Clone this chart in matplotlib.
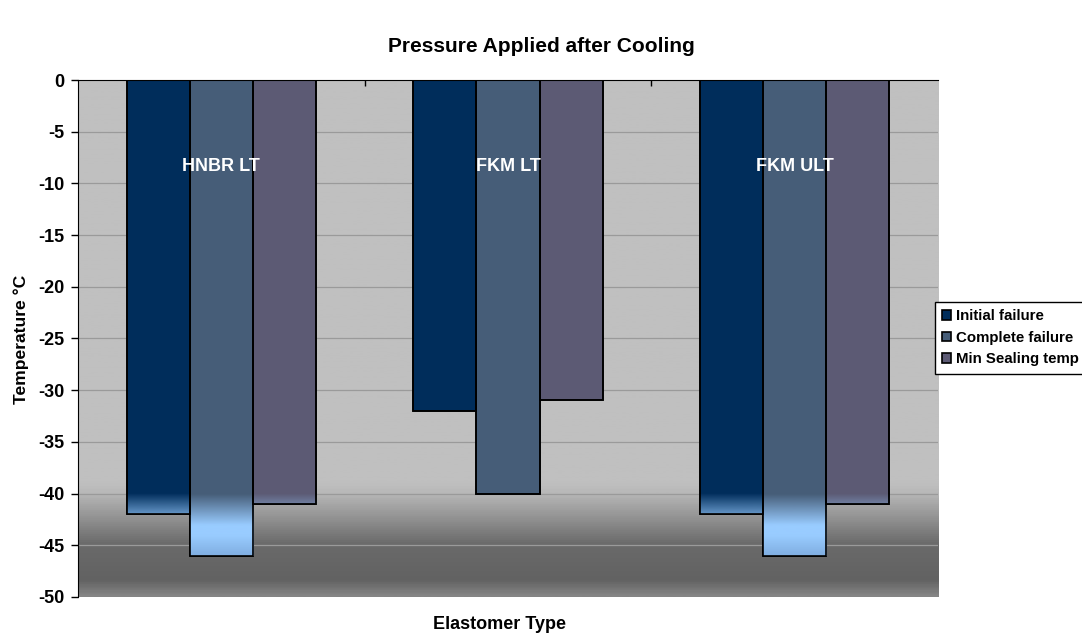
import matplotlib.pyplot as plt
import numpy as np
from matplotlib.colors import LinearSegmentedColormap

plt.rcParams['font.family'] = ['Liberation Sans', 'DejaVu Sans']
plt.rcParams['font.weight'] = 'bold'

categories = ['HNBR LT', 'FKM LT', 'FKM ULT']
series_names = ['Initial failure', 'Complete failure', 'Min Sealing temp']
initial_failure = [-42, -32, -42]
complete_failure = [-46, -40, -46]
min_sealing = [-41, -31, -41]
yticks = list(range(0, -55, -5))

colors = ['#002D5B', '#465D78', '#5C5A74']

fig = plt.figure(figsize=(10.82, 6.35), dpi=100)
ax = fig.add_axes([0.072, 0.06, 0.795, 0.814])

# plot area background: flat gray with dark band at the bottom
bg = LinearSegmentedColormap.from_list('bg', [(0, '#858585'), (0.03, '#626262'),
                                              (0.1, '#6a6a6a'), (0.2, '#b8b8b8'),
                                              (0.22, '#c0c0c0'), (1, '#c0c0c0')])
grad = np.linspace(0, 1, 600).reshape(-1, 1)
ax.imshow(grad, cmap=bg, aspect='auto', origin='lower',
          extent=(-0.5, 2.5, -50, 0), zorder=0)

for y in yticks[1:-1]:
    ax.axhline(y, color='#9a9a9a', lw=0.9, zorder=1)

x = np.arange(len(categories))
w = 0.22
data = [initial_failure, complete_failure, min_sealing]

# light-blue glow on bar parts below -40
glow = np.zeros((400, 1, 4))
t = np.linspace(-50, -38, 400)
a = np.clip((-40 - t) / 3.0, 0, 1)
base = np.array([0.6, 0.8, 1.0])
dark = np.array([0.5, 0.68, 0.88])
mix = np.clip((-44 - t) / 2.0, 0, 1)[:, None]
glow[:, 0, :3] = base * (1 - mix) + dark * mix
glow[:, 0, 3] = a

for i, (vals, c, name) in enumerate(zip(data, colors, series_names)):
    bars = ax.bar(x + (i - 1) * w, vals, w, color=c, edgecolor='black',
                  lw=1.2, zorder=2, label=name)
    for b in bars:
        im = ax.imshow(glow, aspect='auto', origin='lower',
                       extent=(-0.5, 2.5, -50, -38), zorder=2.5)
        im.set_clip_path(b)
        edge = plt.Rectangle(b.get_xy(), b.get_width(), b.get_height(),
                             fill=False, edgecolor='black', lw=1.2, zorder=3)
        ax.add_patch(edge)

for xi, cat in zip(x, categories):
    ax.text(xi, -8.4, cat, color='white', fontsize=13, fontweight='bold',
            ha='center', va='center', zorder=4)

ax.set_xlim(-0.5, 2.5)
ax.set_ylim(-50, 0)
ax.set_yticks(yticks)
ax.set_yticklabels([str(v) for v in yticks], fontsize=13, fontweight='bold')
ax.tick_params(axis='y', direction='out', length=5, width=1, pad=5)
ax.set_xticks([0.5, 1.5])
ax.set_xticklabels([])
ax.xaxis.set_ticks_position('top')
ax.tick_params(axis='x', direction='in', length=4, width=1)

for s in ['right', 'bottom']:
    ax.spines[s].set_visible(False)
ax.spines['top'].set_color('black')
ax.spines['left'].set_color('black')
ax.spines['top'].set_zorder(5)

fig.text(0.02, 0.466, 'Temperature °C', fontsize=12.6, fontweight='bold',
         ha='center', va='center', rotation=90)
fig.text(0.462, 0.016, 'Elastomer Type', fontsize=13, fontweight='bold',
         ha='center', va='center')
fig.text(0.5, 0.926, 'Pressure Applied after Cooling', fontsize=15,
         fontweight='bold', ha='center', va='center')

handles, labels = ax.get_legend_handles_labels()
leg = fig.legend(handles, labels, loc='upper left',
                 bbox_to_anchor=(0.864, 0.525), fontsize=10.8, frameon=True,
                 fancybox=False, edgecolor='black', framealpha=1,
                 handlelength=0.6, handleheight=0.6, handletextpad=0.3,
                 labelspacing=0.5, borderpad=0.5, borderaxespad=0)
leg.get_frame().set_linewidth(1)
for t_ in leg.get_texts():
    t_.set_fontweight('bold')

fig.savefig('out.png', dpi=100)
